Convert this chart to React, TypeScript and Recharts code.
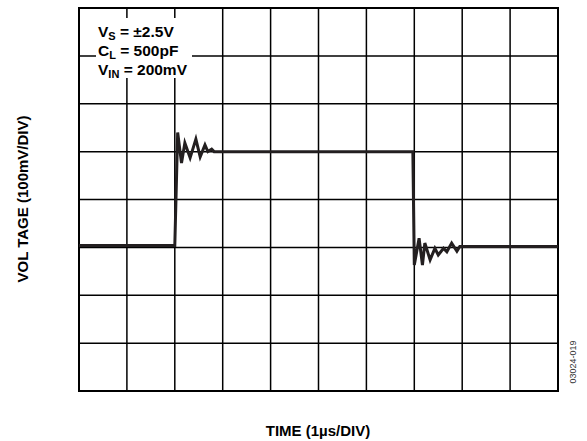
import React from 'react';
import { LineChart, Line, XAxis, YAxis, ReferenceLine, ReferenceArea } from 'recharts';

// time in divisions (1 µs/DIV), voltage in divisions (100 mV/DIV)
const timeDiv = [
  0, 2.0, 2.06, 2.14, 2.21, 2.32, 2.44, 2.53, 2.63, 2.69, 2.77, 2.82,
  6.97, 7.0, 7.1, 7.17, 7.22, 7.33, 7.43, 7.5, 7.61, 7.68, 7.78, 7.89, 7.95, 10,
];
const voltageDiv = [
  3.04, 3.04, 5.4, 4.76, 5.18, 4.87, 5.26, 4.89, 5.14, 5.0, 5.05, 5.0,
  5.0, 2.63, 3.19, 2.63, 3.09, 2.74, 2.98, 2.84, 2.98, 2.91, 3.09, 2.92, 3.02, 3.02,
];
const xTicks = [0, 1, 2, 3, 4, 5, 6, 7, 8, 9, 10];
const yTicks = [0, 1, 2, 3, 4, 5, 6, 7, 8];

const data = timeDiv.map((t, i) => ({ t, v: voltageDiv[i] }));

const font = '"Liberation Sans", Arial, Helvetica, sans-serif';

const Sub = ({ children }: { children: React.ReactNode }) => (
  <span style={{ fontSize: 11, position: 'relative', top: 3, lineHeight: 0 }}>{children}</span>
);

export default function App() {
  return (
    <div style={{ position: 'absolute', left: 0, top: 0, width: 587, height: 441, background: '#fff', fontFamily: font }}>
      <LineChart width={587} height={441} data={data} margin={{ top: 8, right: 29, bottom: 50, left: 79 }}>
        <XAxis dataKey="t" type="number" domain={[0, 10]} ticks={xTicks} tick={false} tickLine={false} axisLine={false} height={0} />
        <YAxis type="number" domain={[0, 8]} ticks={yTicks} tick={false} tickLine={false} axisLine={false} width={0} />
        {xTicks.map((x) => (
          <ReferenceLine key={'x' + x} x={x} stroke="#000" strokeWidth={1.5} ifOverflow="visible" />
        ))}
        {yTicks.map((y) => (
          <ReferenceLine key={'y' + y} y={y} stroke="#000" strokeWidth={1.5} ifOverflow="visible" />
        ))}
        <ReferenceArea x1={0} x2={10} y1={0} y2={8} fill="none" stroke="#000" strokeWidth={2} ifOverflow="visible" />
        <Line dataKey="v" type="linear" stroke="#231f20" strokeWidth={3} dot={false} isAnimationActive={false} strokeLinejoin="miter" />
      </LineChart>
      <div style={{ position: 'absolute', left: 96, top: 18, width: 96, height: 60, background: '#fff' }} />
      <div style={{ position: 'absolute', left: 98, top: 22, fontSize: 15.5, fontWeight: 'bold', lineHeight: '19px', whiteSpace: 'nowrap', color: '#000' }}>
        <div>V<Sub>S</Sub> = ±2.5V</div>
        <div>C<Sub>L</Sub> = 500pF</div>
        <div>V<Sub>IN</Sub> = 200mV</div>
      </div>
      <div style={{ position: 'absolute', left: 318, top: 430, transform: 'translate(-50%, -50%)', fontSize: 15, fontWeight: 'bold', whiteSpace: 'nowrap', color: '#000' }}>
        TIME (1µs/DIV)
      </div>
      <div style={{ position: 'absolute', left: 22, top: 199, transform: 'translate(-50%, -50%) rotate(-90deg)', fontSize: 15, fontWeight: 'bold', whiteSpace: 'nowrap', color: '#000' }}>
        VOL TAGE (100mV/DIV)
      </div>
      <div style={{ position: 'absolute', left: 573, top: 362, transform: 'translate(-50%, -50%) rotate(-90deg)', fontSize: 9, whiteSpace: 'nowrap', color: '#333' }}>
        03024-019
      </div>
    </div>
  );
}
